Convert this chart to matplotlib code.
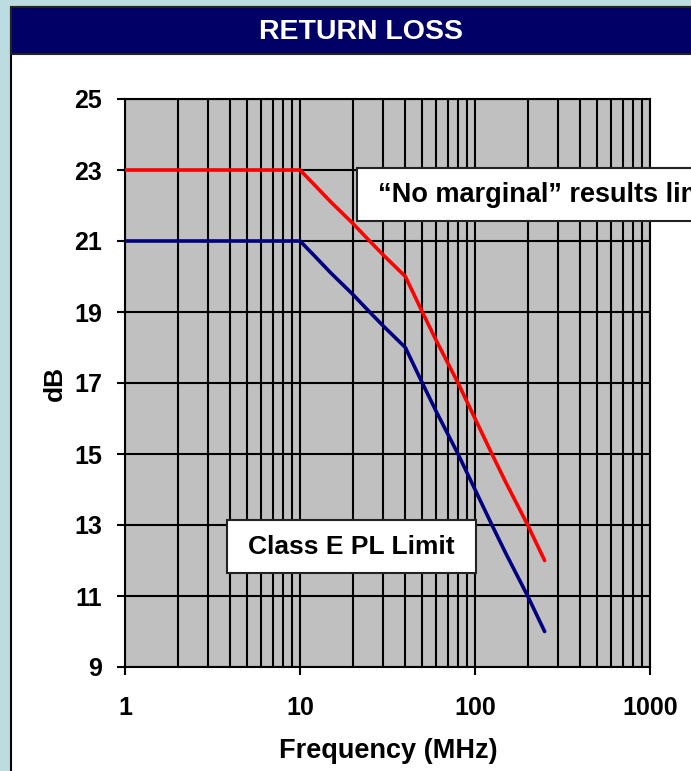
import matplotlib
matplotlib.use("Agg")
import matplotlib.pyplot as plt
from matplotlib.patches import Rectangle
from matplotlib.ticker import LogLocator, NullFormatter, FixedLocator

plt.rcParams['font.family'] = ['Liberation Sans', 'DejaVu Sans']
plt.rcParams['font.weight'] = 'bold'

# data
freq = [1, 10, 12, 15, 20, 25, 30, 40, 50, 60, 80, 100, 125, 150, 200, 250]
no_marginal = [23.0, 23.0, 22.6, 22.1, 21.5, 21.0, 20.6, 20.0, 19.0, 18.2, 17.0, 16.0, 15.0, 14.2, 13.0, 12.0]
class_e = [21.0, 21.0, 20.6, 20.1, 19.5, 19.0, 18.6, 18.0, 17.0, 16.2, 15.0, 14.0, 13.0, 12.2, 11.0, 10.0]
y_ticks = [9, 11, 13, 15, 17, 19, 21, 23, 25]
x_ticks = [1, 10, 100, 1000]
x_labels = ['1', '10', '100', '1000']

W, H = 691, 771
fig = plt.figure(figsize=(W / 100, H / 100), dpi=100, facecolor='#BDDCE2')


def px_rect(x, y, w, h, **kw):
    # rectangle given in pixel coords, origin top-left
    return Rectangle((x / W, 1 - (y + h) / H), w / W, h / H,
                     transform=fig.transFigure, **kw)


def fx(x):
    return x / W


def fy(y):
    return 1 - y / H


fig.patches.append(px_rect(10.5, 7, 700, 800, facecolor='white', edgecolor='black', lw=1.5, zorder=-2))
fig.patches.append(px_rect(10.5, 7, 700, 47, facecolor='#000066', edgecolor='#222222', lw=1.5, zorder=-1))
fig.text(fx(361), fy(32), 'RETURN LOSS', color='white', fontsize=20.5, fontweight='bold',
         ha='center', va='center')

ax = fig.add_axes([fx(125), fy(667), fx(650) - fx(125), fy(99) - fy(667)])
ax.set_facecolor('#C0C0C0')
ax.set_xscale('log')
ax.set_xlim(1, 1000)
ax.set_ylim(9, 25)

ax.plot(freq, no_marginal, color='#FF0000', lw=2.6, zorder=3, solid_capstyle='round')
ax.plot(freq, class_e, color='#000080', lw=2.6, zorder=3, solid_capstyle='round')

ax.xaxis.set_major_locator(FixedLocator(x_ticks))
ax.set_xticklabels(x_labels)
ax.xaxis.set_minor_locator(LogLocator(base=10, subs=range(2, 10)))
ax.xaxis.set_minor_formatter(NullFormatter())
ax.set_yticks(y_ticks)
ax.set_yticklabels([str(v) for v in y_ticks])

ax.grid(True, which='major', axis='both', color='black', lw=1.5)
ax.grid(True, which='minor', axis='x', color='black', lw=1.5)
ax.set_axisbelow(True)
ax.tick_params(axis='x', which='major', length=6, width=1.5, direction='out', pad=15, labelsize=18)
ax.tick_params(axis='x', which='minor', length=0)
ax.tick_params(axis='y', which='major', length=5.5, width=1.5, direction='out', pad=11, labelsize=18)
for s in ax.spines.values():
    s.set_linewidth(1.5)
    s.set_color('black')

fig.text(fx(388), fy(751), 'Frequency (MHz)', fontsize=19.5, fontweight='bold', ha='center', va='center')
fig.text(fx(55), fy(383), 'dB', fontsize=19, fontweight='bold', ha='center', va='center', rotation=90)

# annotation boxes
fig.patches.append(px_rect(227, 520, 249, 53, facecolor='white', edgecolor='#222222', lw=1.5, zorder=2))
fig.text(fx(351.5), fy(547), 'Class E PL Limit', fontsize=19, fontweight='bold',
         ha='center', va='center', zorder=3)
fig.patches.append(px_rect(357, 168, 400, 53, facecolor='white', edgecolor='#222222', lw=1.5, zorder=2))
fig.text(fx(378), fy(195), '\u201cNo marginal\u201d results limit', fontsize=19.5, fontweight='bold',
         ha='left', va='center', zorder=3)

fig.savefig('out.png', dpi=100, facecolor=fig.get_facecolor())
